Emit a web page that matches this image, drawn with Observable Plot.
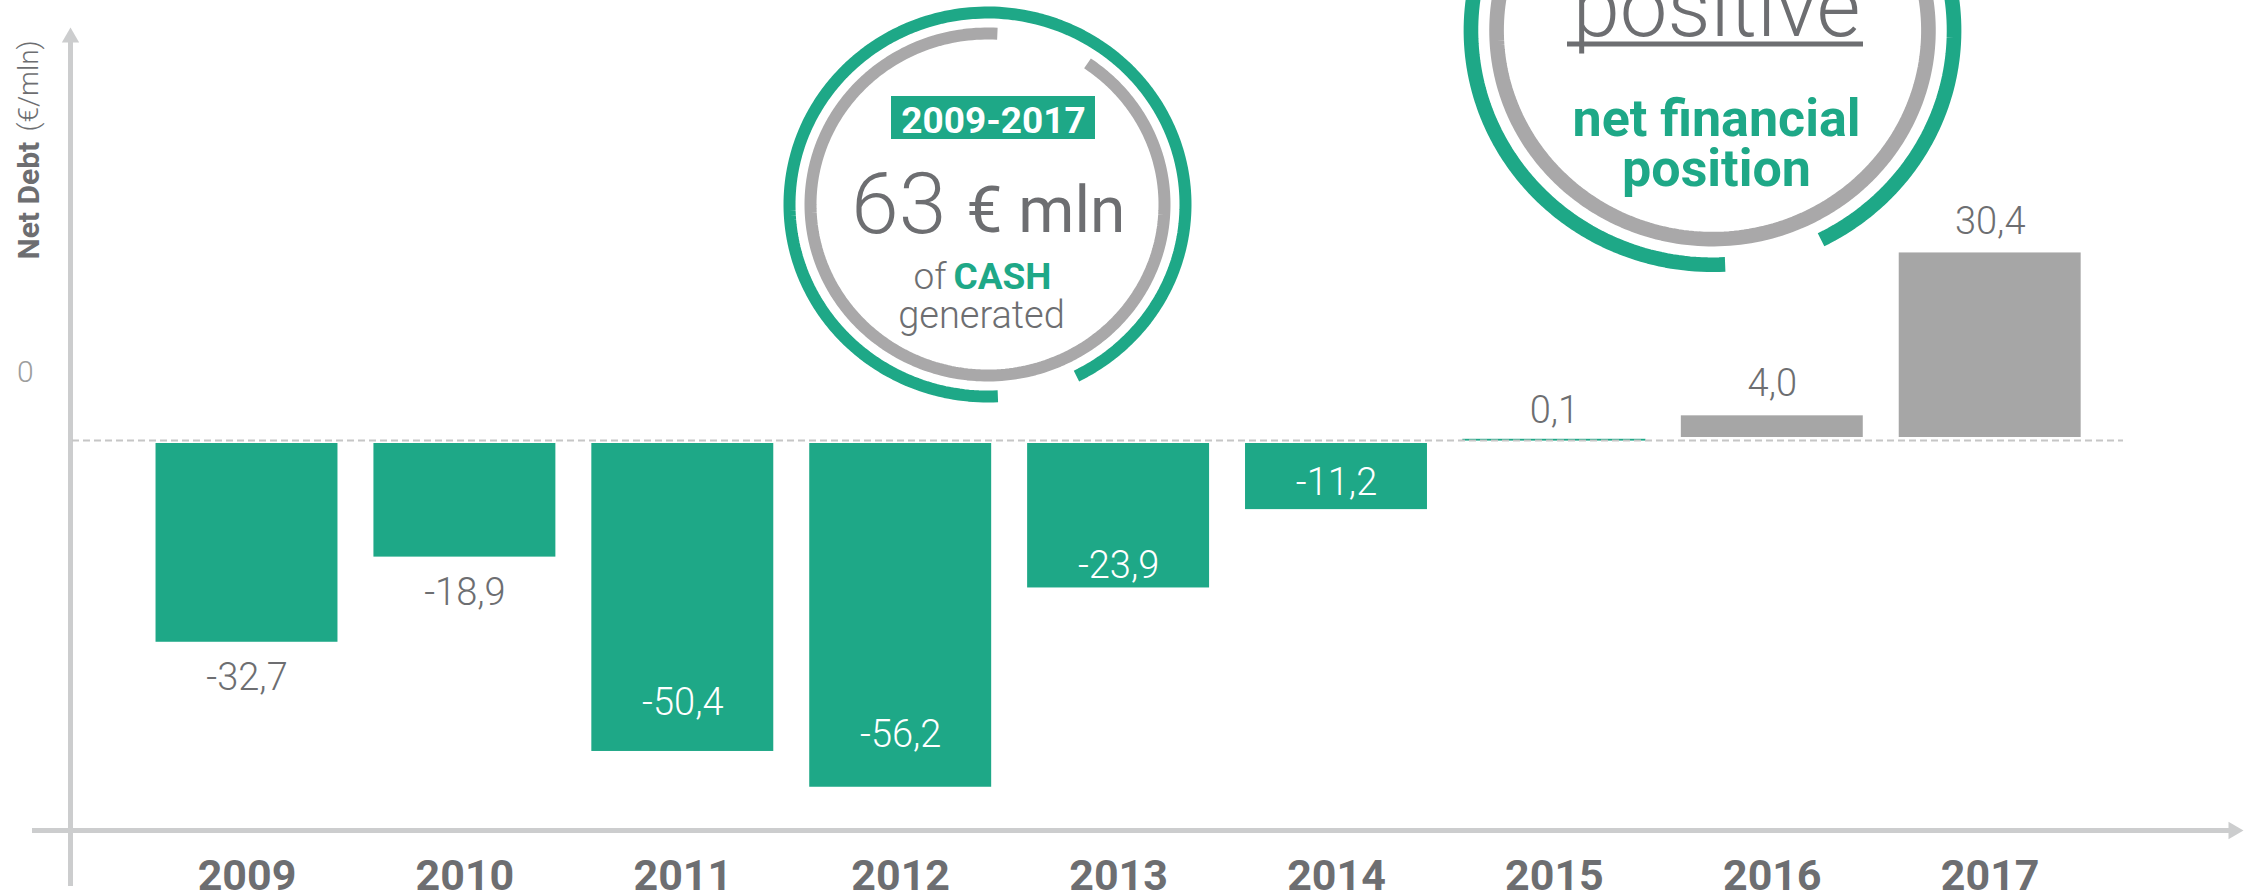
<!DOCTYPE html>
<html>
<head>
<meta charset="utf-8">
<script src="https://cdn.jsdelivr.net/npm/d3@7"></script>
<script src="https://cdn.jsdelivr.net/npm/@observablehq/plot@0.6"></script>
<style>
  html, body { margin: 0; padding: 0; background: #ffffff; }
  #chart svg { display: block; }
</style>
</head>
<body>
<div id="chart"></div>
<script>
// ---------------- DATA ----------------
const years = [2009, 2010, 2011, 2012, 2013, 2014, 2015, 2016, 2017];
const netDebt = [-32.7, -18.9, -50.4, -56.2, -23.9, -11.2, 0.1, 4.0, 30.4];
const positiveYears = [2016, 2017];      // shown in gray (positive net financial position)
const yTicks = [0];
const yTitleBold = "Net Debt";
const yTitleUnit = "(€/mln)";
const cashPeriod = "2009-2017";
const cashAmount = "63";
const cashUnit = "€ mln";

// ---------------- STYLE / LAYOUT ----------------
const W = 2257, H = 896;
const TEAL = "#1ea887", GRAY_BAR = "#a6a6a6", GRAY_RING = "#a9a8a9";
const TEXT = "#6d6e71", AXIS = "#cccdce", DASH = "#c6c6c6";
const FONT = "Roboto, 'Noto Sans', sans-serif";
const M = {left: 28.6, right: 49.4, top: 32, bottom: 66};
const X_DOMAIN = [2008, 2018];
const Y_DOMAIN = [-63.21, 66.13];
const BAR_HALF = 0.4175;
// label baseline offset (px) from the bar end, and whether the label sits inside the bar
const labelOffset = [48, 48, -36, -40, -10, -15, -17, -20, -19];
const labelInside = [false, false, true, true, true, true, false, false, false];

// pixel -> data helpers (same linear mapping as the plot scales)
const xR = [M.left, W - M.right], yR = [H - M.bottom, M.top];
const xInv = px => X_DOMAIN[0] + (px - xR[0]) / (xR[1] - xR[0]) * (X_DOMAIN[1] - X_DOMAIN[0]);
const yInv = py => Y_DOMAIN[0] + (py - yR[0]) / (yR[1] - yR[0]) * (Y_DOMAIN[1] - Y_DOMAIN[0]);
const yPx = v => yR[0] + (v - Y_DOMAIN[0]) / (Y_DOMAIN[1] - Y_DOMAIN[0]) * (yR[1] - yR[0]);

const data = years.map((year, i) => ({year, value: netDebt[i], i}));
const fmt = v => v.toFixed(1).replace(".", ",");
const barFill = d => positiveYears.includes(d.year) ? GRAY_BAR : TEAL;

// decorative rings (elliptical arcs, angles clockwise from 12 o'clock)
function arc(cx, cy, rx, ry, a0, a1) {
  const pts = [];
  const n = 240;
  for (let k = 0; k <= n; k++) {
    const t = (a0 + (a1 - a0) * k / n) * Math.PI / 180;
    pts.push({x: xInv(cx + rx * Math.sin(t)), y: yInv(cy - ry * Math.cos(t))});
  }
  return pts;
}
function rings(cx, cy, s) {
  return [
    Plot.line(arc(cx, cy, 198 * s, 192 * s, 177, 513.3), {x: "x", y: "y", stroke: TEAL, strokeWidth: 12 * s, strokeLinecap: "butt"}),
    Plot.line(arc(cx, cy, 177 * s, 171 * s, 34.4, 363.2), {x: "x", y: "y", stroke: GRAY_RING, strokeWidth: 12 * s, strokeLinecap: "butt"})
  ];
}
const C1 = {x: 987, y: 204}, C2 = {x: 1712, y: 30};
const txt = (str, px, py, o) => Plot.text([str], {x: xInv(px), y: yInv(py), text: d => d, lineAnchor: "bottom", fontFamily: FONT, ...o});

const chart = Plot.plot({
  width: W, height: H,
  marginLeft: M.left, marginRight: M.right, marginTop: M.top, marginBottom: M.bottom,
  x: {domain: X_DOMAIN},
  y: {domain: Y_DOMAIN},
  style: {fontFamily: FONT, background: "#ffffff"},
  marks: [
    // axes lines & arrows
    Plot.ruleY([Y_DOMAIN[0]], {x1: xInv(32), x2: xInv(2230), stroke: AXIS, strokeWidth: 5}),
    Plot.ruleX([xInv(70)], {y1: yInv(886), y2: yInv(42), stroke: AXIS, strokeWidth: 5}),
    Plot.dot([0], {x: xInv(70), y: yInv(37), symbol: "triangle", r: 6.43, fill: AXIS, stroke: null}),
    Plot.dot([0], {x: xInv(2233), y: Y_DOMAIN[0], symbol: "triangle", r: 6.43, rotate: 90, fill: AXIS, stroke: null}),

    // bars
    Plot.rectY(data.filter(d => d.value < 0), {x1: d => d.year - BAR_HALF, x2: d => d.year + BAR_HALF, y1: 0, y2: "value", fill: barFill, insetTop: 3}),
    Plot.rectY(data.filter(d => d.value >= 1), {x1: d => d.year - BAR_HALF, x2: d => d.year + BAR_HALF, y1: 0, y2: "value", fill: barFill, insetBottom: 3}),
    Plot.rectY(data.filter(d => d.value >= 0 && d.value < 1), {x1: d => d.year - BAR_HALF, x2: d => d.year + BAR_HALF, y1: 0, y2: "value", fill: barFill, stroke: barFill, strokeWidth: 1.2}),

    // zero dashed line
    Plot.ruleY([0], {x1: xInv(72), x2: xInv(2123), stroke: DASH, strokeWidth: 2, strokeDasharray: "7,4"}),

    // value labels
    Plot.text(data, {
      x: "year",
      y: d => yInv(yPx(d.value) + labelOffset[d.i]),
      text: d => fmt(d.value),
      lineAnchor: "bottom",
      fontSize: 38, fontWeight: 300, fontFamily: FONT,
      fill: d => labelInside[d.i] ? "#ffffff" : TEXT
    }),

    // axes
    Plot.axisX({ticks: years, tickFormat: d => String(d), tickSize: 0, tickPadding: 29, fontSize: 43, fontWeight: 700, fill: TEXT, fontFamily: FONT, label: null}),
    Plot.axisY({ticks: yTicks, tickFormat: d => String(d), tickSize: 0, tickPadding: 0, dx: 4.5, dy: -68, fontSize: 30, fontWeight: 300, fill: "#9d9d9d", fontFamily: FONT, label: null}),

    // y title
    Plot.text([yTitleBold], {x: xInv(28.5), y: yInv(259), text: d => d, rotate: -90, textAnchor: "start", lineAnchor: "middle", fontSize: 30, fontWeight: 700, fill: TEXT, fontFamily: FONT}),
    Plot.text([yTitleUnit], {x: xInv(29), y: yInv(131), text: d => d, rotate: -90, textAnchor: "start", lineAnchor: "middle", fontSize: 28, fontWeight: 300, fill: TEXT, fontFamily: FONT}),

    // left badge
    ...rings(C1.x, C1.y, 1),
    Plot.rect([0], {x1: xInv(891), x2: xInv(1095), y1: yInv(139), y2: yInv(96), fill: TEAL}),
    txt(cashPeriod, 993, 132, {fontSize: 37, fontWeight: 700, fill: "#ffffff"}),
    txt(cashAmount, 946, 232, {fontSize: 86, fontWeight: 300, fill: TEXT, textAnchor: "end"}),
    txt(cashUnit, 966, 231, {fontSize: 64, fontWeight: 400, fill: TEXT, textAnchor: "start"}),
    txt("of", 946, 288, {fontSize: 37, fontWeight: 300, fill: TEXT, textAnchor: "end"}),
    txt("CASH", 953, 288, {fontSize: 37, fontWeight: 700, fill: TEAL, textAnchor: "start"}),
    txt("generated", 981, 327, {fontSize: 38, fontWeight: 300, fill: TEXT}),

    // right badge
    ...rings(C2.x, C2.y, 1.22),
    txt("positive", 1716, 35, {fontSize: 85, fontWeight: 300, fill: TEXT}),
    Plot.ruleY([yInv(43.5)], {x1: xInv(1567), x2: xInv(1863), stroke: TEXT, strokeWidth: 5}),
    txt("net financial", 1716, 135, {fontSize: 52, fontWeight: 700, fill: TEAL}),
    txt("position", 1716, 185, {fontSize: 52, fontWeight: 700, fill: TEAL})
  ]
});
document.getElementById("chart").appendChild(chart);
</script>
</body>
</html>
